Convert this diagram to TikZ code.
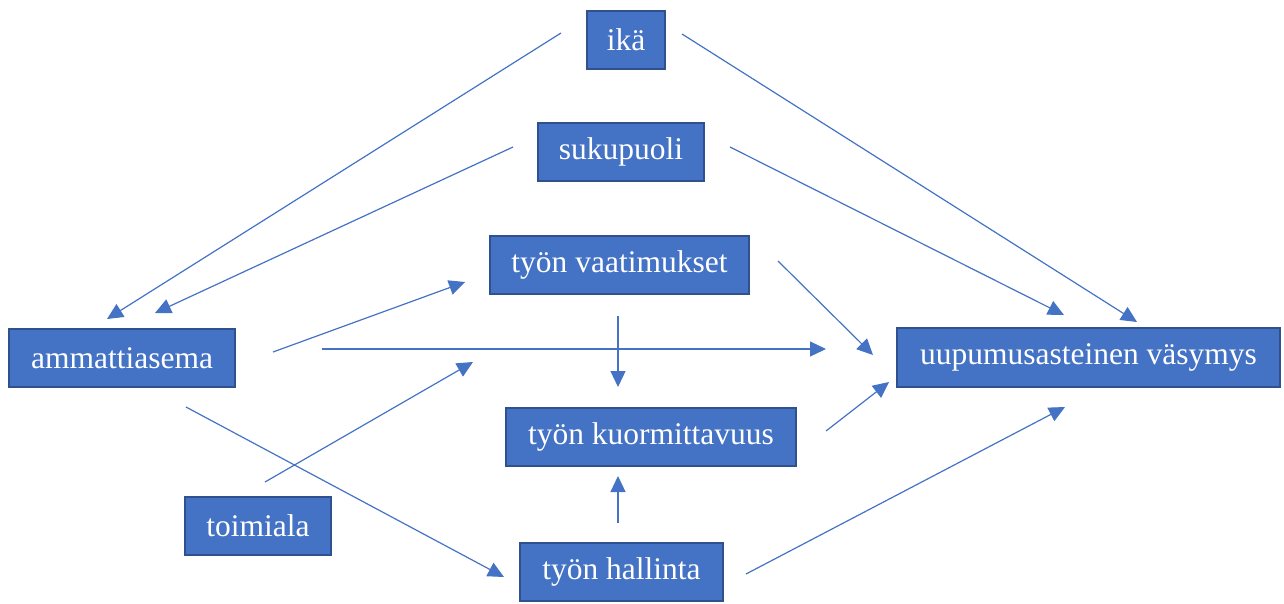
\documentclass[tikz,border=0pt]{standalone}
\usepackage{fontspec}
\setmainfont{Liberation Serif}
\newfontfamily\boxfont{Liberation Serif}
\usetikzlibrary{arrows.meta}
\definecolor{boxblue}{HTML}{4472C4}
\definecolor{boxedge}{HTML}{2F528F}
\tikzset{
  box/.style={draw=boxedge, line width=2pt, fill=boxblue, text=white, inner sep=0pt,
    font=\boxfont\fontsize{31.5}{36}\selectfont, anchor=center},
  link/.style={draw=boxblue, line width=1.2pt, -{Triangle[length=16pt,width=15pt]}}
}
\begin{document}
\begin{tikzpicture}[x=1pt,y=-1pt]
\useasboundingbox (0,0) rectangle (1284,603);
% boxes
\node[box, minimum width=78pt, minimum height=58pt] (ika) at (626,40) {ikä};
\node[box, minimum width=166pt, minimum height=58pt] (suku) at (621,152) {sukupuoli};
\node[box, minimum width=259pt, minimum height=58pt] (vaat) at (619.5,265) {työn vaatimukset};
\node[box, minimum width=226pt, minimum height=58pt] (amm) at (122,358) {ammattiasema};
\node[box, minimum width=383pt, minimum height=59pt] (uup) at (1088.5,357.5) {uupumusasteinen väsymys};
\node[box, minimum width=290pt, minimum height=58pt] (kuor) at (651,437) {työn kuormittavuus};
\node[box, minimum width=146pt, minimum height=58pt] (toim) at (258,526) {toimiala};
\node[box, minimum width=203pt, minimum height=58pt] (hall) at (621.5,572) {työn hallinta};
% connector end points
\coordinate (a1) at (561,33);   \coordinate (b1) at (107,319);
\coordinate (a2) at (513,147);  \coordinate (b2) at (155,313);
\coordinate (a3) at (682,34);   \coordinate (b3) at (1137,322);
\coordinate (a4) at (730,147);  \coordinate (b4) at (1064,315);
\coordinate (a5) at (273,352);  \coordinate (b5) at (465,282);
\coordinate (a6) at (322,349);  \coordinate (b6) at (826,349);
\coordinate (a7) at (265,482);  \coordinate (b7) at (473,362);
\coordinate (a8) at (186,407);  \coordinate (b8) at (504,577);
\coordinate (a9) at (618,316);  \coordinate (b9) at (618,387);
\coordinate (a10) at (618,523); \coordinate (b10) at (618,476);
\coordinate (a11) at (778,261); \coordinate (b11) at (873,355);
\coordinate (a12) at (826,431); \coordinate (b12) at (889,382);
\coordinate (a13) at (746,574); \coordinate (b13) at (1065,407);
% connectors
\draw[link] (a1) -- (b1);
\draw[link] (a2) -- (b2);
\draw[link] (a3) -- (b3);
\draw[link] (a4) -- (b4);
\draw[link] (a5) -- (b5);
\draw[link] (a6) -- (b6);
\draw[link] (a7) -- (b7);
\draw[link] (a8) -- (b8);
\draw[link] (a9) -- (b9);
\draw[link] (a10) -- (b10);
\draw[link] (a11) -- (b11);
\draw[link] (a12) -- (b12);
\draw[link] (a13) -- (b13);
\end{tikzpicture}
\end{document}
